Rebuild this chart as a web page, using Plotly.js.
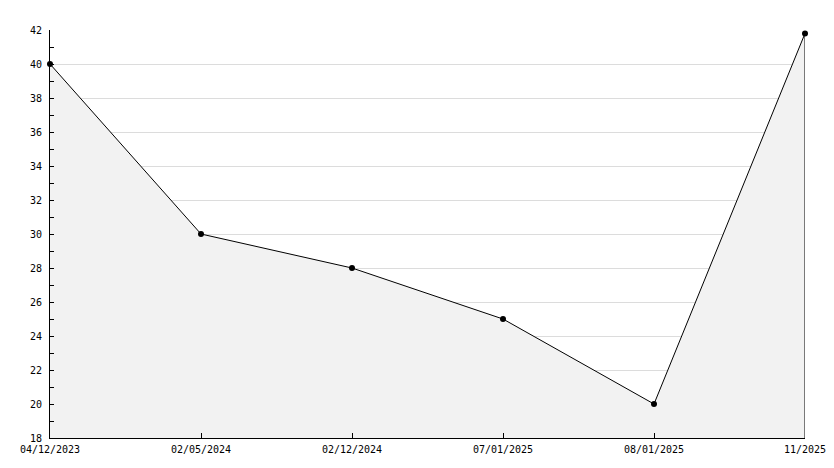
<!DOCTYPE html>
<html>
<head>
<meta charset="utf-8">
<script src="https://cdn.plot.ly/plotly-3.0.1.min.js"></script>
<style>html,body{margin:0;padding:0;background:#fff;}#chart{width:834px;height:468px;}</style>
</head>
<body>
<div id="chart"></div>
<script>
const dates = ["04/12/2023", "02/05/2024", "02/12/2024", "07/01/2025", "08/01/2025", "11/2025"];
const values = [40, 30, 28, 25, 20, 41.8];
const yMin = 18, yMax = 42;

const lastCat = dates[dates.length - 1];
const lastVal = values[values.length - 1];

const traces = [
  {
    x: dates, y: values, type: 'scatter', mode: 'lines+markers',
    fill: 'tozeroy', fillcolor: '#f2f2f2',
    line: {color: '#000', width: 1},
    marker: {color: '#000', size: 6, symbol: 'circle'},
    cliponaxis: false, hoverinfo: 'x+y'
  },
  {
    x: [lastCat, lastCat], y: [yMin, lastVal], type: 'scatter', mode: 'lines',
    line: {color: '#000', width: 1}, hoverinfo: 'skip', cliponaxis: false
  }
];

const font = {family: 'DejaVu Sans Mono, monospace', size: 10, color: '#000'};

const layout = {
  width: 834, height: 468,
  margin: {l: 50, r: 29, t: 30, b: 30, pad: 0},
  paper_bgcolor: '#fff', plot_bgcolor: '#fff',
  showlegend: false,
  font: font,
  xaxis: {
    type: 'category', range: [0, dates.length - 1],
    showgrid: false, zeroline: false,
    showline: true, linecolor: '#000', linewidth: 1,
    ticks: 'inside', ticklen: 5, tickcolor: '#000', tickwidth: 1,
    tickfont: font, ticklabelstandoff: 2
  },
  yaxis: {
    range: [yMin, yMax], dtick: 2, tick0: 0,
    showgrid: true, gridcolor: '#dcdcdc', gridwidth: 1,
    zeroline: false,
    showline: true, linecolor: '#000', linewidth: 1,
    ticks: 'inside', ticklen: 4, tickcolor: '#000', tickwidth: 1,
    minor: {dtick: 1, ticks: 'inside', ticklen: 4, tickcolor: '#000', showgrid: false},
    tickfont: font, ticklabelstandoff: 5
  }
};

Plotly.newPlot('chart', traces, layout, {staticPlot: true, displayModeBar: false});
</script>
</body>
</html>
